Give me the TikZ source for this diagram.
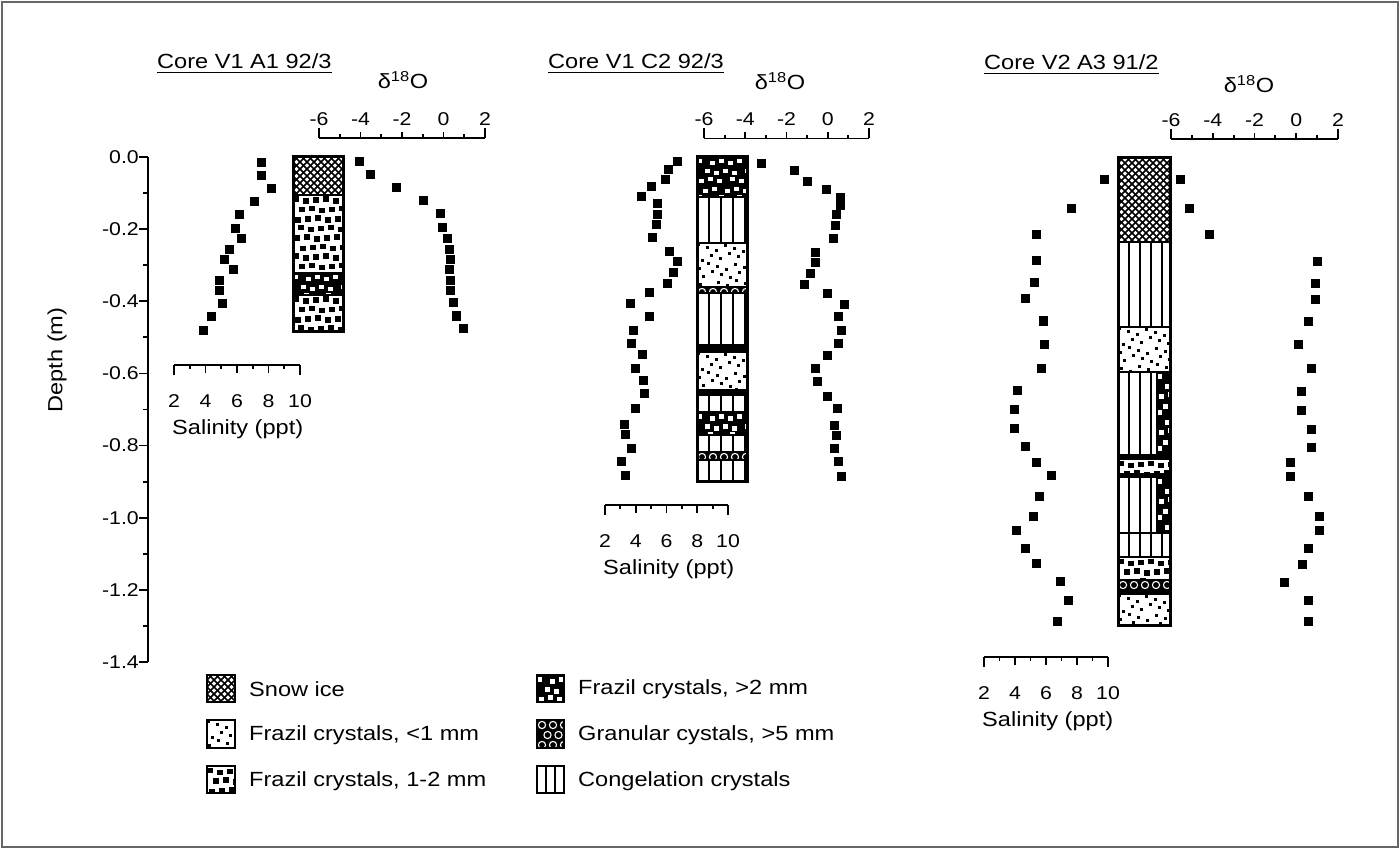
\documentclass[tikz,border=0pt]{standalone}
\usepackage{fontspec}
\setmainfont{Liberation Sans}[FakeStretch=1.15]
\tikzset{
  txt/.style={font=\fontsize{20.5}{24}\selectfont, inner sep=0pt},
  num/.style={font=\fontsize{18.5}{22}\selectfont, inner sep=0pt},
  axln/.style={line width=1.8pt},
  layer/.style={draw, line width=2pt, fill=white},
  coltube/.style={draw, line width=3pt},
  marker/.style={fill=black},
  snowice/.style={path picture={\begin{scope}[shift={(path picture bounding box.north west)}]
      \foreach \a in {-154,-147,...,210}{\draw[black,line width=1.7pt] (\a,-2) -- ++(154,154); \draw[black,line width=1.7pt] (\a+154,-2) -- ++(-154,154);}
    \end{scope}}},
  frazilsmall/.style={path picture={\begin{scope}[shift={(path picture bounding box.north west)}]
      \foreach \i in {0,...,6}{\foreach \j in {0,...,9}{\fill[black] ({\i*9+mod(\j*4+\i*7,7)},{\j*9+mod(\i*3+\j*7,8)}) rectangle ++(2.7,2.7);}}
    \end{scope}}},
  frazilmed/.style={path picture={\begin{scope}[shift={(path picture bounding box.north west)}]
      \foreach \i in {0,...,5}{\foreach \j in {0,...,8}{\fill[black] ({\i*10+mod(\j,2)*5+mod(\i*3+\j*7,3)},{\j*9.5+1.5+mod(\i*5+\j,3)}) rectangle ++(5.5,5.5);}}
    \end{scope}}},
  frazillarge/.style={path picture={\begin{scope}[shift={(path picture bounding box.north west)}]
      \fill[black] (-5,-5) rectangle (90,150);
      \foreach \i in {0,...,5}{\foreach \j in {0,...,8}{\fill[white] ({\i*10+mod(\j,2)*5+mod(\i*7+\j*3,4)},{\j*9+2+mod(\i*2+\j*5,4)}) rectangle ++(5,4.5);}}
    \end{scope}}},
  granular/.style={path picture={\begin{scope}[shift={(path picture bounding box.north west)}]
      \fill[black] (-5,-5) rectangle (90,150);
      \foreach \i in {0,...,5}{\foreach \j in {0,...,3}{\draw[white,line width=1.1pt] ({\i*11+mod(\j,2)*5.5+5},{\j*10+5}) circle[radius=3.6];}}
    \end{scope}}},
  congel/.style={path picture={\begin{scope}[shift={(path picture bounding box.north west)}]
      \foreach \k in {1,...,5}{\draw[black,line width=2pt] (\k*#1,-5) -- (\k*#1,150);}
    \end{scope}}},
  congel/.default=12
}
\newcommand\myDaxis[4]{%
  \draw[axln] (#1,#3) -- (#2,#3);
  \foreach \v/\tl in {0/10,1/3.5,2/6,3/3.5,4/6,5/3.5,6/6,7/3.5,8/10}{\draw[axln] ({#1+(#2-#1)*\v/8},#3) -- ++(0,-\tl);}
  \foreach \v/\lab in {0/-6,2/-4,4/-2,6/0,8/2}{\node[num] (#4\v) at ({#1+(#2-#1)*\v/8},{#3-19}) {\lab};}
}
\newcommand\mySaxis[4]{%
  \draw[axln] (#1,#3) -- (#2,#3);
  \foreach \v/\tl in {0/10,1/3.5,2/8,3/3.5,4/8,5/3.5,6/8,7/3.5,8/10}{\draw[axln] ({#1+(#2-#1)*\v/8},#3) -- ++(0,\tl);}
  \foreach \v/\lab in {0/2,2/4,4/6,6/8,8/10}{\node[num] (#4\v) at ({#1+(#2-#1)*\v/8},{#3+36}) {\lab};}
  \node[txt,anchor=west] (#4t) at (#1-2,{#3+64}) {Salinity (ppt)};
}
\begin{document}
\begin{tikzpicture}[x=1pt,y=-1pt]
\useasboundingbox (0,0) rectangle (1400,850);
\fill[white] (0,0) rectangle (1400,850);
\draw[black!60, line width=1.2pt] (2,2) rectangle (1398,847);

% ---------- depth axis ----------
\draw[line width=2pt] (148,157) -- (148,662);
\foreach \k in {0,...,14}{\draw[line width=1.8pt] (148,{157+\k*36.07}) -- ++(-5,0);}
\foreach \k/\lab in {0/0.0,2/-0.2,4/-0.4,6/-0.6,8/-0.8,10/-1.0,12/-1.2,14/-1.4}{
  \draw[line width=1.8pt] (148,{157+\k*36.07}) -- ++(-9,0);
  \node[num,anchor=east] (dep\k) at (139,{157+\k*36.07}) {\lab};}
\node[txt,rotate=90] (depthlab) at (57,360) {Depth (m)};

% ---------- titles ----------
\node[txt,anchor=base west] (t1) at (157,69) {Core V1 A1 92/3};
\node[txt,anchor=base west] (t2) at (548,69) {Core V1 C2 92/3};
\node[txt,anchor=base west] (t3) at (984,70) {Core V2 A3 91/2};
\foreach \t in {t1,t2,t3}{\draw[line width=1.3pt] ([yshift=-3.5pt]\t.base west) -- ([yshift=-3.5pt]\t.base east);}

% ---------- delta 18O axes ----------
\node[txt,anchor=base] (d1) at (403,89) {δ\textsuperscript{18}O};
\node[txt,anchor=base] (d2) at (780,90) {δ\textsuperscript{18}O};
\node[txt,anchor=base] (d3) at (1249,93) {δ\textsuperscript{18}O};
\myDaxis{319}{485}{138}{da}
\myDaxis{704}{869}{138.5}{db}
\myDaxis{1171}{1338}{139}{dc}

% ---------- salinity axes ----------
\mySaxis{174}{300}{365}{sa}
\mySaxis{605}{728}{505}{sb}
\mySaxis{984}{1108}{657}{sc}

% ---------- core 1 column ----------
\path[layer,snowice] (293,157) rectangle (343,195);
\path[layer,frazilmed] (293,195) rectangle (343,273);
\path[layer,frazillarge] (293,273) rectangle (343,295);
\path[layer,frazilmed] (293,295) rectangle (343,331);
\path[coltube] (293,157) rectangle (343,331);

% ---------- core 2 column ----------
\path[layer,frazillarge] (697,157) rectangle (747,197);
\path[layer,congel] (697,197) rectangle (747,243);
\path[layer,frazilsmall] (697,243) rectangle (747,287);
\path[layer,granular] (697,287) rectangle (747,293);
\path[layer,congel] (697,293) rectangle (747,345);
\fill (697,345) rectangle (747,352);
\path[layer,frazilsmall] (697,352) rectangle (747,390);
\fill (697,390) rectangle (747,395);
\path[layer,congel] (697,395) rectangle (747,412);
\path[layer,frazillarge] (697,412) rectangle (747,435);
\path[layer,congel] (697,435) rectangle (747,452);
\path[layer,granular] (697,452) rectangle (747,460);
\path[layer,congel] (697,460) rectangle (747,481);
\path[coltube] (697,157) rectangle (747,481);

% ---------- core 3 column ----------
\path[layer,snowice] (1118,158) rectangle (1170,242);
\path[layer,congel=11] (1118,242) rectangle (1170,327);
\path[layer,frazilsmall] (1118,327) rectangle (1170,372);
\path[layer,congel=11] (1118,372) rectangle (1157,455);
\path[layer,frazillarge] (1157,372) rectangle (1170,455);
\fill (1118,455) rectangle (1170,459);
\path[layer,frazilmed] (1118,459) rectangle (1170,474);
\fill (1118,474) rectangle (1170,477);
\path[layer,congel=11] (1118,477) rectangle (1157,533);
\path[layer,frazillarge] (1157,477) rectangle (1170,533);
\path[layer,congel=11] (1118,533) rectangle (1170,557);
\path[layer,frazilmed] (1118,557) rectangle (1170,580);
\path[layer,granular] (1118,580) rectangle (1170,591);
\fill (1118,591) rectangle (1170,594);
\path[layer,frazilsmall] (1118,594) rectangle (1170,625);
\path[coltube] (1118,158) rectangle (1170,625);

% ---------- data points ----------
\foreach \x/\y in {261.7/162.7,261/175.7,271/189,254.3/201.7,239/214.7,235.7/228.3,241/238.7,229.3/249.3,224.7/260,233/270,219/280.7,219/290.7,222.7/303.3,211.3/316.7,203.3/330,
  359.3/161.3,370.7/174.3,396.7/187.3,423.3/201,440/214,442.3/227.3,447.7/238.7,449/249.3,450/260,449/270,450.7/280.7,450.7/290.7,453.3/302.7,456/316,463.3/328.7}
  {\fill[marker] ({\x-4.5},{\y-4.5}) rectangle ++(9,9);}
\foreach \x/\y in {677.7/162,668.3/170,665/180,651/186.7,641/196.7,657.3/204,657.3/215,656.7/225,652.7/237.7,669.3/251.7,677.7/261.7,673.3/272.3,667.3/283.3,649/292.3,630/303.3,649.3/316.7,633.3/330,631.7/343.3,642.7/354,635/368.3,643.3/380,644.3/393.3,635.7/408.3,624.3/424.3,625/434.3,631.7/448.3,621.7/461.7,625/475,
  761.7/163.3,794.3/171,807.7/181.7,826/189.3,840/197.3,840/205.7,836.7/215,835.7/225.7,833.3/239,815.7/252.3,815.7/262.7,810/273.3,804.3/284.3,827.3/293.3,844.3/304.3,838.3/316.7,841/330,838.3/343.3,827.3/355,815/368.3,817.7/381.7,827.7/396,837.3/408.3,834/425,836.7/435,834/448.3,838.3/461.7,841.7/476.7}
  {\fill[marker] ({\x-4.5},{\y-4.5}) rectangle ++(9,9);}
\foreach \x/\y in {1104/179.3,1071.7/208.3,1036/234.3,1036/261,1034.3/282.7,1025.7/298.3,1043.3/321,1044/344.3,1041.7/368.3,1017.3/390.7,1014.3/409,1014.3/428,1025/446.7,1036/462.7,1051.7/475.7,1039.3/496.7,1033.3/516.7,1016.7/530,1025/548.3,1036/563.3,1060/581.7,1068.3/600,1057.7/621,
  1180/180,1189/209,1209/235,1317.7/261.7,1315/283.3,1315/299.3,1308.3/321.7,1298.3/344.3,1311/368.5,1301/391,1301/410,1311/429,1311/447.3,1290/462.7,1290/476,1308.3/496.7,1319.3/516.7,1319.3/530.7,1308.3/548.3,1302.7/564,1284.3/582.3,1308.3/600,1308.3/621.7}
  {\fill[marker] ({\x-4.5},{\y-4.5}) rectangle ++(9,9);}

% ---------- legend ----------
\path[layer,line width=2.5pt,snowice] (207,675) rectangle (235,702);
\path[layer,line width=2.5pt,frazilsmall] (207,720) rectangle (235,748);
\path[layer,line width=2.5pt,frazilmed] (207,766) rectangle (235,793);
\path[layer,line width=2.5pt,frazillarge] (537,675) rectangle (564,702);
\path[layer,line width=2.5pt,granular] (537,720) rectangle (564,748);
\path[layer,line width=2.5pt,congel=9] (537,766) rectangle (564,793);
\node[txt,anchor=west] (l1) at (249,689) {Snow ice};
\node[txt,anchor=west] (l2) at (249,735) {Frazil crystals, <1 mm};
\node[txt,anchor=west] (l3) at (249,781) {Frazil crystals, 1-2 mm};
\node[txt,anchor=west] (l4) at (578,689) {Frazil crystals, >2 mm};
\node[txt,anchor=west] (l5) at (578,735) {Granular cystals, >5 mm};
\node[txt,anchor=west] (l6) at (578,781) {Congelation crystals};
\end{tikzpicture}
\end{document}
